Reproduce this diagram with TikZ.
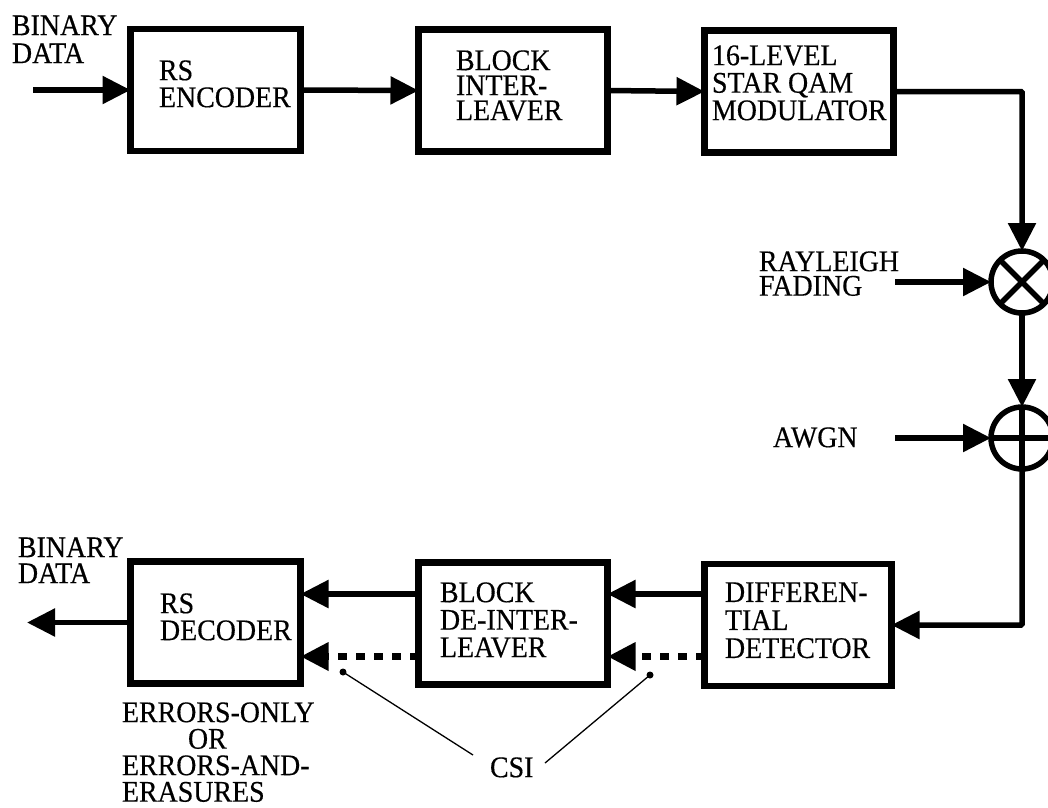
\documentclass[tikz,border=0pt]{standalone}
\usepackage{fontspec}
\setmainfont{Liberation Serif}[FakeStretch=0.93,FakeBold=0.4]
\usetikzlibrary{arrows.meta}
\begin{document}
\begin{tikzpicture}[x=1pt,y=-1pt,
  blk/.style={draw, line width=6.5pt, inner sep=0pt, outer sep=0pt, minimum height=122pt},
  txt/.style={anchor=north west, inner sep=0pt, outer sep=0pt, align=left, font=\fontsize{30}{#1}\selectfont},
  txt/.default=27,
  arr/.style={line width=5.5pt, -{Triangle[length=28pt,width=27pt]}},
  dotarr/.style={arr, line width=6.5pt, dash pattern=on 9pt off 9pt},
  thinline/.style={line width=1.3pt},
  sym/.style={draw, circle, line width=5.5pt, minimum size=62pt, inner sep=0pt, outer sep=0pt}]
\useasboundingbox (0,0) rectangle (1048,807);

% boxes
\node[blk, minimum width=170pt] (rsenc) at (215.5,90) {};
\node[blk, minimum width=189pt] (bil) at (513,90.5) {};
\node[blk, minimum width=189pt] (mod) at (799,91.5) {};
\node[blk, minimum width=187pt] (dd) at (798,625) {};
\node[blk, minimum width=189pt] (bdi) at (513,623.5) {};
\node[blk, minimum width=170pt] (rsd) at (215.5,622.5) {};

% product / sum nodes
\node[sym] (mult) at (1022,282) {};
\node[sym] (add) at (1022,438) {};
\draw[line width=5.5pt] (mult.north east) -- (mult.south west) (mult.north west) -- (mult.south east);
\draw[line width=5.5pt] (add.north) -- (add.south) (add.west) -- (add.east);

% texts
\node[txt=28] (tbin) at (12,15.3) {BINARY\\DATA};
\node[txt=27] (trsenc) at (159,60.3) {RS\\ENCODER};
\node[txt=25] (tbil) at (456,50.3) {BLOCK\\INTER-\\LEAVER};
\node[txt=27.5] (tmod) at (712,45.3) {16-LEVEL\\STAR QAM\\MODULATOR};
\node[txt=24.5] (tray) at (759,251.3) {RAYLEIGH\\FADING};
\node[txt] (tawgn) at (773,427.3) {AWGN};
\node[txt=28] (tdd) at (725,582.3) {DIFFEREN-\\TIAL\\DETECTOR};
\node[txt=27.5] (tbdi) at (440,582.3) {BLOCK\\DE-INTER-\\LEAVER};
\node[txt=27] (trsd) at (160,593.3) {RS\\DECODER};
\node[txt=26] (tbout) at (18,537.3) {BINARY\\DATA};
\node[txt=26.5] (terr) at (122,702.3) {ERRORS-ONLY\\\hspace*{66pt}OR\\ERRORS-AND-\\ERASURES};
\node[txt] (csi) at (490,757.3) {CSI};

% coordinates
\coordinate (in) at (33,90);
\coordinate (out) at (27,622.5);
\coordinate (ray) at (895,282);
\coordinate (awgn) at (895,438);
\coordinate (ys1) at (0,594);
\coordinate (yd1) at (0,656.5);
\coordinate (c1) at (343,672);
\coordinate (c2) at (650,675);
\coordinate (e1) at (473,755);
\coordinate (e2) at (545,763);

% connectors
\draw[arr] (in) -- (rsenc.west);
\draw[arr] (rsenc.east) -- (bil.west);
\draw[arr] (bil.east) -- (mod.west);
\draw[arr, rounded corners=1pt] (mod.east) -| (mult.north);
\draw[arr] (ray) -- (mult.west);
\draw[arr] (mult.south) -- (add.north);
\draw[arr] (awgn) -- (add.west);
\draw[arr, rounded corners=1pt] (add.south) |- (dd.east);
\draw[arr] (dd.west |- ys1) -- (bdi.east |- ys1);
\draw[dotarr] (dd.west |- yd1) -- (bdi.east |- yd1);
\draw[arr] (bdi.west |- ys1) -- (rsd.east |- ys1);
\draw[dotarr] (bdi.west |- yd1) -- (rsd.east |- yd1);
\draw[arr] (rsd.west) -- (out);

% CSI pointers
\fill (c1) circle[radius=3.5pt];
\fill (c2) circle[radius=3.5pt];
\draw[thinline] (e1) -- (c1);
\draw[thinline] (e2) -- (c2);
\end{tikzpicture}
\end{document}
